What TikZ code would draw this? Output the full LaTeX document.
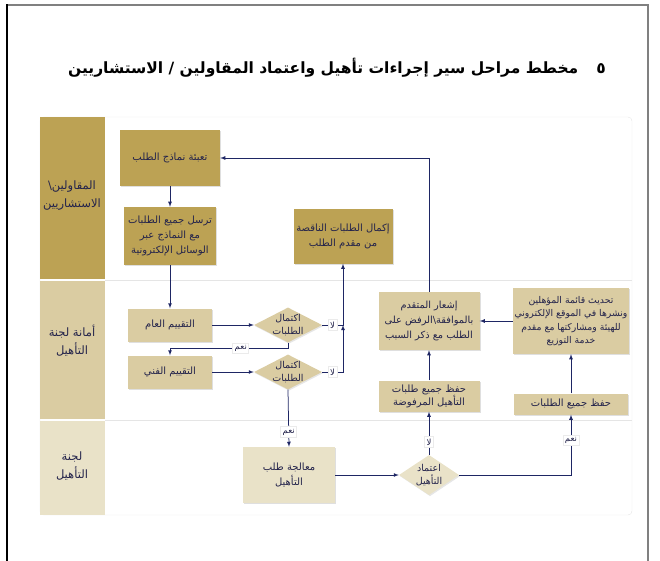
\documentclass[tikz,border=0pt]{standalone}
\usepackage{fontspec}
\setmainfont{DejaVu Sans}
\newfontfamily\arabicfont[Script=Arabic]{DejaVu Sans}
\usetikzlibrary{shapes.geometric, shadows, calc, positioning}
\TeXXeTstate=1
\newcommand{\ar}[1]{{\arabicfont\beginR #1\endR}}
\definecolor{laneGold}{RGB}{188,162,84}
\definecolor{laneTan}{RGB}{218,204,162}
\definecolor{lanePale}{RGB}{233,226,200}
\definecolor{flowBlue}{RGB}{30,38,100}
\definecolor{inkBlue}{RGB}{35,35,75}
\tikzset{
  stepbox/.style={rectangle, fill=#1, text=inkBlue, align=center, inner sep=1pt,
    font=\fontsize{10}{15}\selectfont,
    drop shadow={opacity=0.25, shadow xshift=1pt, shadow yshift=-1.2pt}},
  decision/.style={diamond, fill=#1, minimum width=68pt, minimum height=35pt, inner sep=0pt,
    drop shadow={opacity=0.2, shadow xshift=1pt, shadow yshift=-1.2pt}},
  dtext/.style={text=inkBlue, align=center, font=\fontsize{9.5}{13}\selectfont},
  flow/.style={draw=flowBlue, line width=0.75pt, -latex},
  answer/.style={fill=white, draw=black!8, text=inkBlue, inner sep=2pt,
    font=\fontsize{8.5}{9}\selectfont},
  lanehead/.style={text=inkBlue, align=center, font=\fontsize{11.5}{18}\selectfont}
}
\begin{document}
\begin{tikzpicture}[x=1pt, y=-1pt]
  \useasboundingbox (0,0) rectangle (660,561);
  % page frame
  \draw[black!50, line width=1.6pt] (7,5) -- (648,5) -- (648,561);
  \draw[black, line width=1.1pt] (7,4.2) -- (7,561);
  \node[font=\bfseries\fontsize{15.5}{19}\selectfont] (title) at (337,68)
    {\ar{٥\hspace{18pt}مخطط مراحل سير إجراءات تأهيل واعتماد المقاولين / الاستشاريين}};

  % lanes
  \draw[black!10, rounded corners=4pt] (40,117) rectangle (632,515);
  \fill[laneGold] (40,117) rectangle (105,279);
  \fill[laneTan] (40,281) rectangle (105,419);
  \fill[lanePale] (40,421) rectangle (105,515);
  \draw[black!10] (105,280) -- (632,280);
  \draw[black!10] (105,420) -- (632,420);
  \node[lanehead] (laneA) at (72,196) {\ar{المقاولين\textbackslash}\\\ar{الاستشاريين}};
  \node[lanehead] (laneB) at (72,341) {\ar{أمانة لجنة}\\\ar{التأهيل}};
  \node[lanehead] (laneC) at (72,466) {\ar{لجنة}\\\ar{التأهيل}};

  % steps
  \node[stepbox=laneGold, minimum width=100pt, minimum height=56pt] (A) at (170,158)
    {\ar{تعبئة نماذج الطلب}};
  \node[stepbox=laneGold, minimum width=92pt, minimum height=58pt] (B) at (170,236)
    {\ar{ترسل جميع الطلبات}\\\ar{مع النماذج عبر}\\\ar{الوسائل الإلكترونية}};
  \node[stepbox=laneGold, minimum width=99pt, minimum height=55pt] (C) at (343,236)
    {\ar{إكمال الطلبات الناقصة}\\\ar{من مقدم الطلب}};
  \node[stepbox=laneTan, minimum width=84pt, minimum height=33pt] (D) at (170,325)
    {\ar{التقييم العام}};
  \node[stepbox=laneTan, minimum width=84pt, minimum height=33pt] (E) at (170,372)
    {\ar{التقييم الفني}};
  \node[decision=laneTan, label={[dtext]center:{\ar{اكتمال}\\\ar{الطلبات}}}] (F) at (288,325) {};
  \node[decision=laneTan, label={[dtext]center:{\ar{اكتمال}\\\ar{الطلبات}}}] (G) at (288,372) {};
  \node[stepbox=lanePale, minimum width=92pt, minimum height=56pt] (H) at (289,475)
    {\ar{معالجة طلب}\\\ar{التأهيل}};
  \node[decision=lanePale, minimum width=60pt, minimum height=40pt,
    label={[dtext]center:{\ar{اعتماد}\\\ar{التأهيل}}}] (I) at (429,475) {};
  \node[stepbox=laneTan, minimum width=101pt, minimum height=31pt,
    font=\fontsize{10}{13}\selectfont] (J) at (429,396)
    {\ar{حفظ جميع طلبات}\\\ar{التأهيل المرفوضة}};
  \node[stepbox=laneTan, minimum width=101pt, minimum height=58pt,
    font=\fontsize{9.8}{15}\selectfont] (K) at (429,321)
    {\ar{إشعار المتقدم}\\\ar{بالموافقة\textbackslash الرفض على}\\\ar{الطلب مع ذكر السبب}};
  \node[stepbox=laneTan, minimum width=114pt, minimum height=21pt] (L) at (571,404)
    {\ar{حفظ جميع الطلبات}};
  \node[stepbox=laneTan, minimum width=116pt, minimum height=66pt,
    font=\fontsize{9.3}{13.5}\selectfont] (M) at (571,321)
    {\ar{تحديث قائمة المؤهلين}\\\ar{ونشرها في الموقع الإلكتروني}\\\ar{للهيئة ومشاركتها مع مقدم}\\\ar{خدمة التوزيع}};

  % connectors
  \coordinate (merge) at (C.south |- F.east);
  \draw[flow] (A.south) -- (B.north);
  \draw[flow] (B.south) -- (D.north);
  \draw[flow] (D.east) -- (F.west);
  \draw[flow] (E.east) -- (G.west);
  \draw[flow] (F.south) -- ($(F.south)!0.5!(G.north)$) -| node[answer, pos=0.2] (yesF) {\ar{نعم}} (E.north);
  \draw[flow] (F.east) -- node[answer] (noF) {\ar{لا}} (merge) -- (C.south);
  \draw[flow] (G.east) -- node[answer] (noG) {\ar{لا}} (G.east -| merge) -- (merge);
  \draw[flow] (G.south) -- node[answer, pos=0.74] (yesG) {\ar{نعم}} (H.north);
  \draw[flow] (H.east) -- (I.west);
  \draw[flow] (I.north) -- node[answer, pos=0.3] (noI) {\ar{لا}} (J.south);
  \draw[flow] (I.east) -| node[answer, pos=0.79] (yesI) {\ar{نعم}} (L.south);
  \draw[flow] (J.north) -- (K.south);
  \draw[flow] (L.north) -- (M.south);
  \draw[flow] (M.west) -- (K.east);
  \draw[flow] (K.north) |- (A.east);
\end{tikzpicture}
\end{document}
